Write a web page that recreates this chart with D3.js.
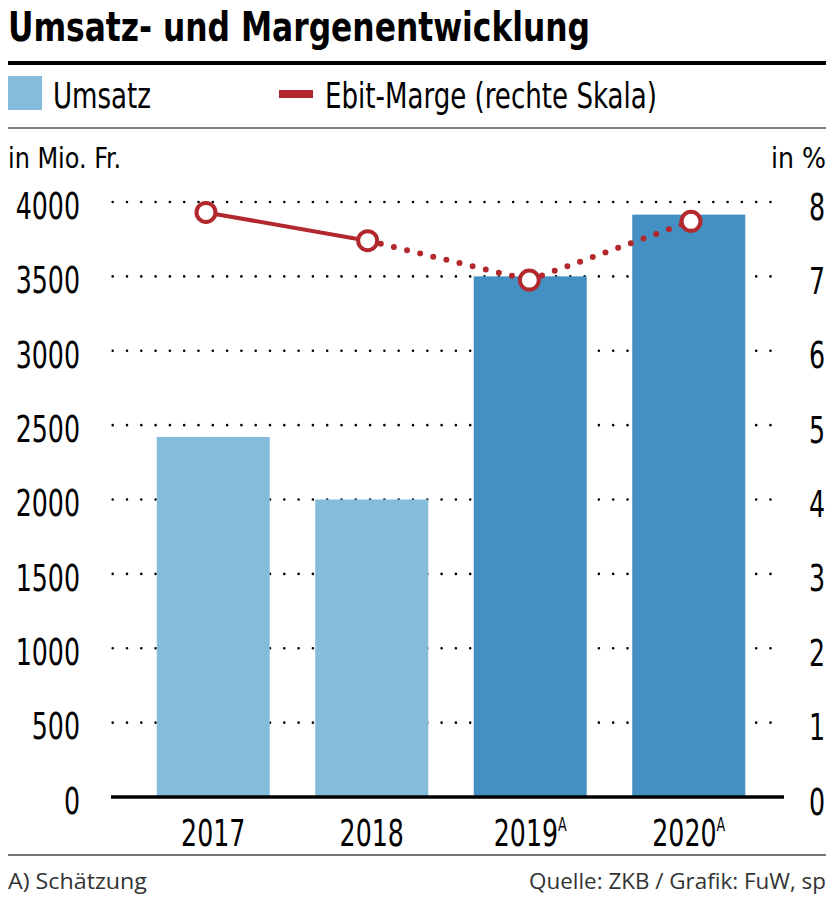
<!DOCTYPE html>
<html>
<head>
<meta charset="utf-8">
<script src="https://cdn.jsdelivr.net/npm/d3@7"></script>
<style>
  body { margin: 0; background: #fff; }
  text { font-family: "Liberation Sans Narrow", "DejaVu Sans Condensed", "Roboto", sans-serif; fill: #000; }
  .foot { font-family: "Open Sans", "Noto Sans", sans-serif; fill: #333; }
</style>
</head>
<body>
<div id="chart"></div>
<script>
// data
var years = ["2017", "2018", "2019", "2020"];
var estimated = [false, false, true, true];
var umsatz = [2420, 2000, 3500, 3915];      // in Mio. Fr.
var marge = [7.86, 7.48, 6.95, 7.74];       // Ebit-Marge in %
var leftTicks = [0, 500, 1000, 1500, 2000, 2500, 3000, 3500, 4000];
var rightTicks = [0, 1, 2, 3, 4, 5, 6, 7, 8];

var lightBlue = "#85bcdc", darkBlue = "#4490c3", red = "#b3282d";

var svg = d3.select("#chart").append("svg")
  .attr("width", 834)
  .attr("height", 903);

// fit a text element to a given width
function fit(sel, w) {
  sel.attr("textLength", w).attr("lengthAdjust", "spacingAndGlyphs");
}

// title + rules
svg.append("text").attr("x", 8).attr("y", 41)
  .style("font-size", "41px").style("font-weight", "bold")
  .text("Umsatz- und Margenentwicklung").call(fit, 582);
svg.append("rect").attr("x", 8).attr("y", 61).attr("width", 818).attr("height", 4).attr("fill", "#000");

// legend
svg.append("rect").attr("x", 8).attr("y", 76).attr("width", 34).attr("height", 34).attr("fill", lightBlue);
svg.append("text").attr("x", 53).attr("y", 108).style("font-size", "36px").text("Umsatz").call(fit, 98);
svg.append("rect").attr("x", 279).attr("y", 90).attr("width", 34).attr("height", 8).attr("fill", red);
svg.append("text").attr("x", 325).attr("y", 108).style("font-size", "36px")
  .text("Ebit-Marge (rechte Skala)").call(fit, 332);
svg.append("line").attr("x1", 8).attr("x2", 826).attr("y1", 128).attr("y2", 128)
  .attr("stroke", "#555").attr("stroke-width", 1.5);

// units
svg.append("text").attr("x", 8).attr("y", 168).style("font-size", "28px").text("in Mio. Fr.").call(fit, 113);
svg.append("text").attr("x", 826).attr("y", 168).attr("text-anchor", "end").style("font-size", "28px").text("in %");

// scales
var x = d3.scaleBand().domain(years).range([134, 768]).paddingInner(0.287).paddingOuter(0.1435);
var xLine = d3.scalePoint().domain(years).range([206, 691]);
var y = d3.scaleLinear().domain([0, 4000]).range([797, 202]);
var yR = d3.scaleLinear().domain([0, 8]).range([797, 202]);

// dotted gridlines
svg.append("g").selectAll("line")
  .data(leftTicks.filter(function(d) { return d > 0; }))
  .enter().append("line")
  .attr("x1", 112.7).attr("x2", 784)
  .attr("y1", function(d) { return y(d); })
  .attr("y2", function(d) { return y(d); })
  .attr("stroke", "#000").attr("stroke-width", 2.6)
  .attr("stroke-linecap", "round").attr("stroke-dasharray", "0 14.3");

// bars
svg.append("g").selectAll("rect")
  .data(umsatz)
  .enter().append("rect")
  .attr("x", function(d, i) { return x(years[i]); })
  .attr("width", x.bandwidth())
  .attr("y", function(d) { return y(d); })
  .attr("height", function(d) { return y(0) - y(d); })
  .attr("fill", function(d, i) { return estimated[i] ? darkBlue : lightBlue; });

// base line
svg.append("line").attr("x1", 111).attr("x2", 784).attr("y1", y(0)).attr("y2", y(0))
  .attr("stroke", "#000").attr("stroke-width", 3.5);

// axes
var left = svg.append("g").attr("transform", "translate(80,0)")
  .call(d3.axisLeft(y).tickValues(leftTicks).tickSize(0).tickPadding(0).tickFormat(d3.format("d")));
var right = svg.append("g").attr("transform", "translate(809,0)")
  .call(d3.axisRight(yR).tickValues(rightTicks).tickSize(0).tickPadding(0));
var bottom = svg.append("g").attr("transform", "translate(0," + y(0) + ")")
  .call(d3.axisBottom(x).tickSize(0).tickPadding(22));
[left, right, bottom].forEach(function(g) {
  g.select(".domain").remove();
  g.attr("font-family", null).attr("font-size", null);
  // condensed look: squeeze horizontally around the tick anchor
  g.selectAll(".tick text").style("font-size", "38px").attr("fill", "#000")
    .attr("transform", "scale(0.74,1)");
});
left.selectAll(".tick text").attr("dy", "0.43em");
right.selectAll(".tick text").attr("dy", "0.45em");
bottom.selectAll(".tick text").each(function(d, i) {
  if (estimated[i]) {
    d3.select(this).append("tspan").attr("dy", "-15").style("font-size", "19px").text("A");
  }
});

// Ebit-Marge line
var pts = marge.map(function(d, i) { return [xLine(years[i]), yR(d)]; });
for (var i = 1; i < pts.length; i++) {
  var seg = svg.append("line")
    .attr("x1", pts[i - 1][0]).attr("y1", pts[i - 1][1])
    .attr("x2", pts[i][0]).attr("y2", pts[i][1])
    .attr("stroke", red).attr("stroke-linecap", "round");
  if (estimated[i]) {
    seg.attr("stroke-width", 6).attr("stroke-dasharray", "0 13.5");
  } else {
    seg.attr("stroke-width", 4);
  }
}
svg.append("g").selectAll("circle")
  .data(pts)
  .enter().append("circle")
  .attr("cx", function(d) { return d[0]; })
  .attr("cy", function(d) { return d[1]; })
  .attr("r", 9.5)
  .attr("fill", "#fff").attr("stroke", red).attr("stroke-width", 4);

// footer
svg.append("line").attr("x1", 8).attr("x2", 826).attr("y1", 855).attr("y2", 855)
  .attr("stroke", "#777").attr("stroke-width", 2);
svg.append("text").attr("class", "foot").attr("x", 8).attr("y", 889).style("font-size", "21px")
  .text("A) Schätzung").call(fit, 139);
svg.append("text").attr("class", "foot").attr("x", 826).attr("y", 889).attr("text-anchor", "end")
  .style("font-size", "21px").text("Quelle: ZKB / Grafik: FuW, sp").call(fit, 297);
</script>
</body>
</html>
